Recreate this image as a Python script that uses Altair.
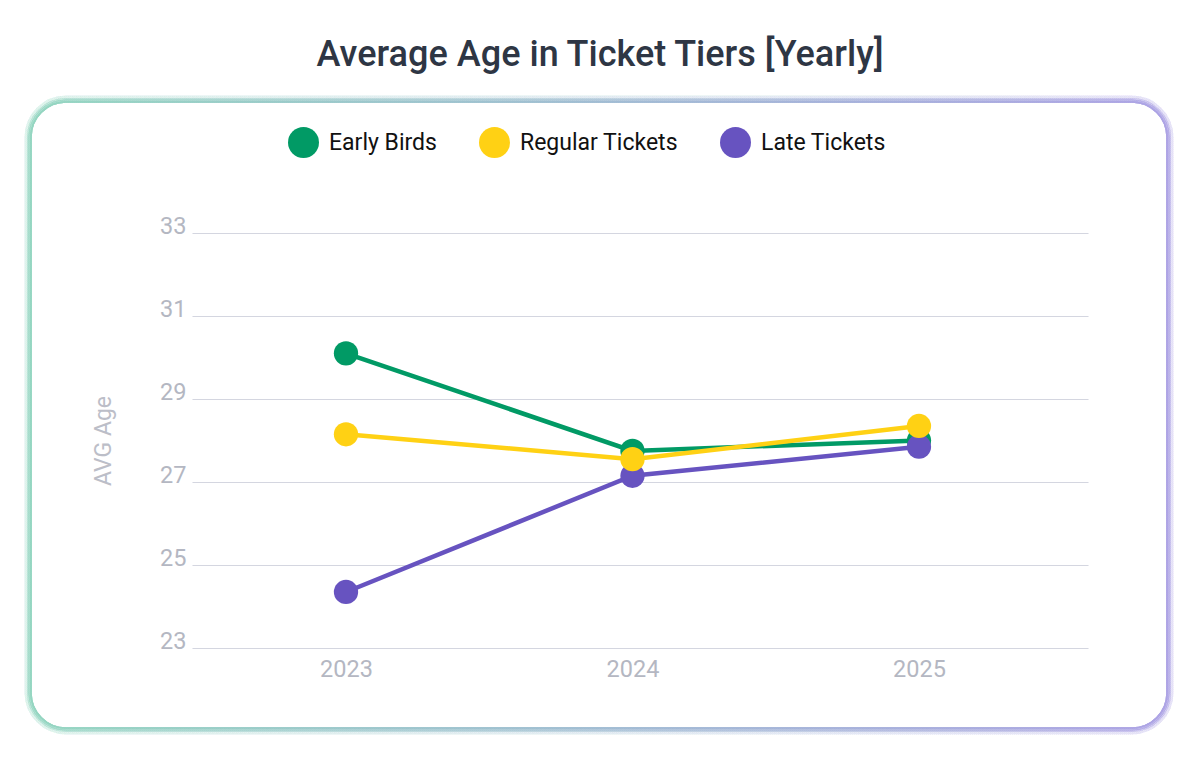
import altair as alt
import pandas as pd

years = [2023, 2024, 2025]
series = ["Early Birds", "Regular Tickets", "Late Tickets"]
early_birds = [30.1, 27.75, 28.0]
regular_tickets = [28.15, 27.55, 28.35]
late_tickets = [24.35, 27.15, 27.85]
colors = ["#019a65", "#ffd114", "#6753c0"]
y_ticks = [23, 25, 27, 29, 31, 33]

rows = []
for name, vals in zip(series, [early_birds, regular_tickets, late_tickets]):
    for yr, v in zip(years, vals):
        rows.append({"Year": yr, "Tier": name, "Age": v})
df = pd.DataFrame(rows)

W, H = 896, 415
FONT = "Roboto"

color = alt.Color(
    "Tier:N",
    scale=alt.Scale(domain=series, range=colors),
    sort=series,
    legend=alt.Legend(
        orient="none",
        direction="horizontal",
        legendX=96,
        legendY=-106,
        title=None,
        symbolType="circle",
        symbolSize=960,
        symbolStrokeWidth=0,
        symbolOpacity=1,
        labelFontSize=23,
        labelFont=FONT,
        labelColor="#111111",
        labelOffset=10,
        columnPadding=42,
        symbolOffset=0,
    ),
)

x = alt.X(
    "Year:Q",
    scale=alt.Scale(domain=[2022.4625, 2025.59], nice=False, zero=False),
    axis=alt.Axis(
        values=years,
        format="d",
        title=None,
        grid=False,
        domain=False,
        ticks=False,
        labelFontSize=23.5,
        labelColor="#b4b7c2",
        labelFont=FONT,
        labelPadding=9,
    ),
)
y = alt.Y(
    "Age:Q",
    scale=alt.Scale(domain=[23, 33], nice=False, zero=False),
    axis=alt.Axis(
        values=y_ticks,
        title="AVG Age",
        titleFontSize=23,
        titleFontWeight="normal",
        titleColor="#bcbec8",
        titleFont=FONT,
        titlePadding=44,
        grid=True,
        gridColor="#d4d6e0",
        gridWidth=1.2,
        domain=False,
        ticks=False,
        labelFontSize=23.5,
        labelColor="#b4b7c2",
        labelFont=FONT,
        labelBaseline="alphabetic",
        labelPadding=6,
    ),
)


def grad(left, right):
    return alt.Gradient(
        gradient="linear",
        stops=[
            alt.GradientStop(color=left, offset=0),
            alt.GradientStop(color=right, offset=1),
        ],
        x1=0, x2=1, y1=0, y2=0,
    )


card_layers = []
# soft shadow rings (decorative frame around the chart)
for grow, width, op in [(6, 3, 0.04), (4, 2, 0.09), (2.5, 2, 0.17), (1, 1.5, 0.38)]:
    card_layers.append(
        alt.Chart(df).mark_rect(
            cornerRadius=34 + grow,
            fillOpacity=0,
            stroke=grad("#93d5c0", "#aca2e4"),
            strokeWidth=width,
            strokeOpacity=op,
        ).encode(
            x=alt.value(-160 - grow),
            x2=alt.value(W + 78 + grow),
            y=alt.value(-132 - grow + 2),
            y2=alt.value(H + 77 + grow + 2),
        )
    )

base = alt.Chart(df).encode(x=x, y=y, color=color, order=alt.Order("Tier:N"))
lines = base.mark_line(strokeWidth=4.5).encode(detail="Tier:N")
points = base.mark_circle(size=590, opacity=1)

chart = alt.layer(*card_layers, lines, points).properties(
    width=W,
    height=H,
    padding={"left": 184, "top": 225, "right": 105, "bottom": 110},
    autosize=alt.AutoSizeParams(type="none"),
    background="white",
    title=alt.Title(
        "Average Age in Ticket Tiers [Yearly]",
        fontSize=36,
        font='"Roboto Medium", Roboto',
        fontWeight=500,
        color="#2e3644",
        anchor="middle",
        dx=-40,
        offset=22,
    ),
).configure_view(stroke=None)

chart.save("out.html", embed_options={"renderer": "svg", "actions": False})
